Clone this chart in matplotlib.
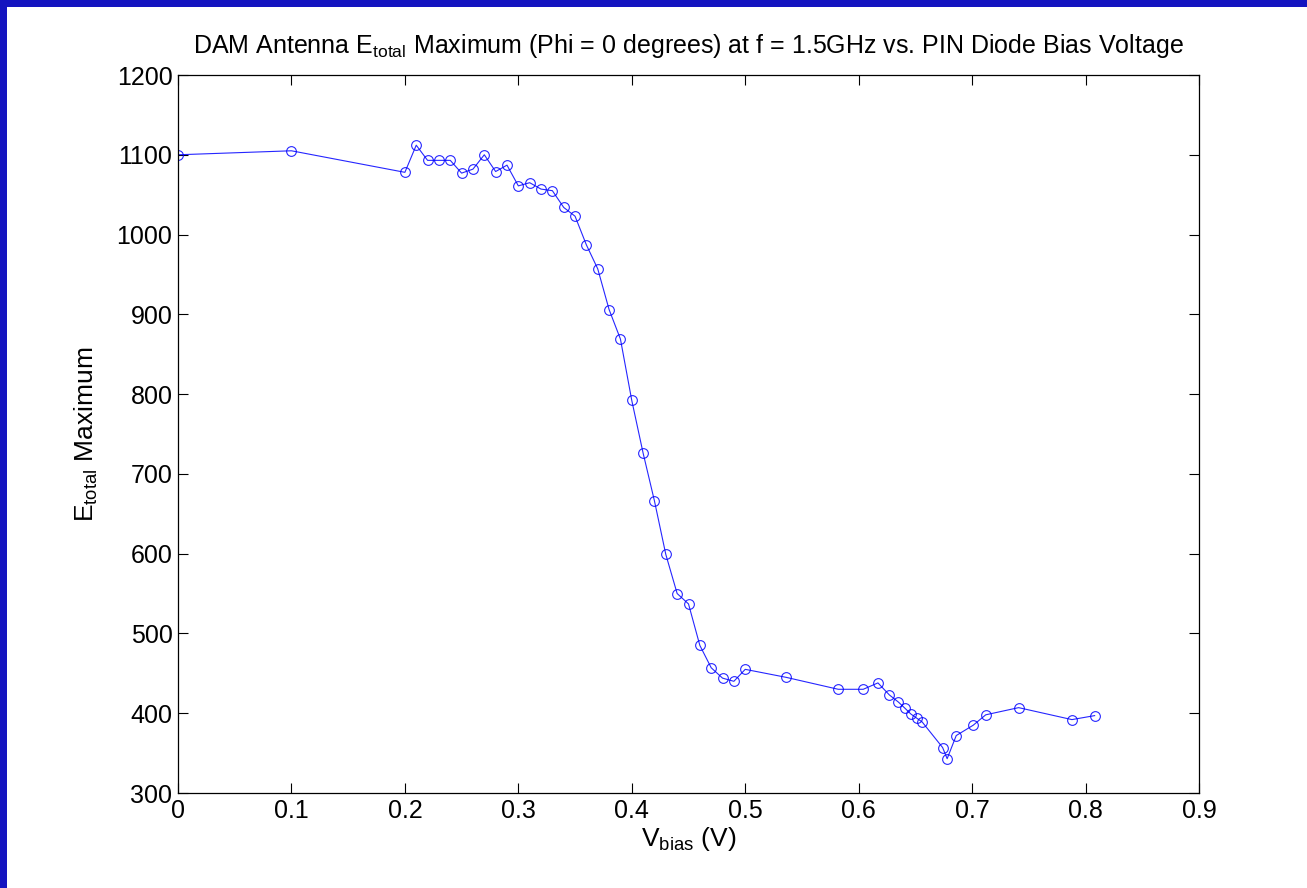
import matplotlib
matplotlib.use("Agg")
import matplotlib.pyplot as plt
from matplotlib.patches import Rectangle

# bias voltage (V) and E_total maximum
v_bias = [0.0, 0.1, 0.2, 0.21, 0.22, 0.23, 0.24, 0.25, 0.26, 0.27, 0.28, 0.29,
          0.30, 0.31, 0.32, 0.33, 0.34, 0.35, 0.36, 0.37, 0.38, 0.39, 0.40,
          0.41, 0.42, 0.43, 0.44, 0.45, 0.46, 0.47, 0.48, 0.49, 0.50,
          0.536, 0.582, 0.604, 0.617, 0.627, 0.635, 0.641, 0.646, 0.651, 0.656,
          0.674, 0.678, 0.686, 0.701, 0.712, 0.741, 0.788, 0.808]
e_total_max = [1100, 1105, 1078, 1112, 1093, 1093, 1093, 1077, 1082, 1100, 1079, 1087,
               1061, 1065, 1057, 1055, 1034, 1023, 987, 957, 906, 869, 792,
               726, 666, 599, 550, 537, 485, 457, 444, 440, 455,
               445, 430, 430, 438, 423, 414, 406, 399, 394, 389,
               357, 343, 372, 385, 398, 407, 392, 397]

plt.rcParams['font.family'] = ['Liberation Sans', 'DejaVu Sans']

fig = plt.figure(figsize=(13.07, 8.88), dpi=100)
fig.patch.set_facecolor('white')
# blue frame strips on top and left
fig.patches.append(Rectangle((0, 1 - 7 / 888), 1, 7 / 888, transform=fig.transFigure,
                             facecolor='#1414c0', edgecolor='none', zorder=0))
fig.patches.append(Rectangle((0, 0), 7 / 1307, 1, transform=fig.transFigure,
                             facecolor='#1414c0', edgecolor='none', zorder=0))

ax = fig.add_axes([178 / 1307, 1 - 793 / 888, (1199 - 178) / 1307, (793 - 75) / 888])
ax.plot(v_bias, e_total_max, color='#0000ff', lw=0.8, marker='o', markersize=7,
        markerfacecolor='none', markeredgecolor='#0000ff', markeredgewidth=0.8, alpha=0.85)

ax.set_xlim(0, 0.9)
ax.set_ylim(300, 1200)
ax.set_xticks([i / 10 for i in range(10)])
ax.set_xticklabels(['0'] + [f'{i / 10:g}' for i in range(1, 10)])
ax.set_yticks(range(300, 1201, 100))
ax.tick_params(direction='in', top=True, right=True, length=7, width=0.8,
               labelsize=18, pad=4)
for s in ax.spines.values():
    s.set_linewidth(0.9)

ax.set_title(r'DAM Antenna E$_{\mathregular{total}}$ Maximum (Phi = 0 degrees) at f = 1.5GHz vs. PIN Diode Bias Voltage',
             fontsize=18, pad=16)
ax.set_xlabel(r'V$_{\mathregular{bias}}$ (V)', fontsize=19, labelpad=2)
ax.set_ylabel(r'E$_{\mathregular{total}}$ Maximum', fontsize=19, labelpad=12)

plt.savefig('out.png', dpi=100, facecolor=fig.get_facecolor())
